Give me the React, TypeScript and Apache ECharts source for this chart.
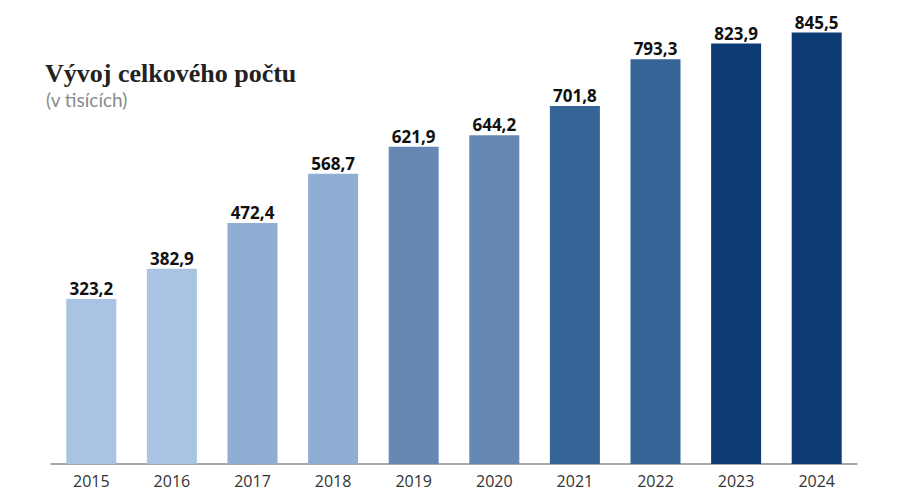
import React, { useEffect, useRef } from 'react';
import * as echarts from 'echarts';

const years = ['2015', '2016', '2017', '2018', '2019', '2020', '2021', '2022', '2023', '2024'];
const values = [323.2, 382.9, 472.4, 568.7, 621.9, 644.2, 701.8, 793.3, 823.9, 845.5];
const barColors = [
  '#a9c4e2', '#a9c4e2',
  '#8eaed4', '#8eaed4',
  '#6688b2', '#6688b2',
  '#366497', '#366497',
  '#0d3c75', '#0d3c75'
];
const titleText = 'Vývoj celkového počtu';
const subtitleText = '(v tisících)';

const fmt = (v: number) => v.toFixed(1).replace('.', ',');

export default function App() {
  const chartRef = useRef<HTMLDivElement>(null);

  useEffect(() => {
    if (!chartRef.current) return;
    const chart = echarts.init(chartRef.current, undefined, { renderer: 'svg' });

    chart.setOption({
      animation: false,
      backgroundColor: '#ffffff',
      graphic: [
        {
          type: 'text',
          left: 37,
          top: 52,
          style: {
            text: titleText,
            fill: '#222222',
            font: 'bold 26px "Liberation Serif"'
          }
        },
        {
          type: 'text',
          left: 38,
          top: 82,
          style: {
            text: subtitleText,
            fill: '#8a8a8a',
            font: '19px Lato'
          }
        }
      ],
      grid: { left: 43, right: 45, top: 7, bottom: 29 },
      xAxis: {
        type: 'category',
        data: years,
        axisLine: { lineStyle: { color: '#8c8c8c', width: 1.5 } },
        axisTick: { show: false },
        axisLabel: {
          color: '#333333',
          fontFamily: 'Open Sans',
          fontSize: 16,
          margin: 9
        }
      },
      yAxis: {
        type: 'value',
        min: 0,
        max: 880,
        show: false,
        splitLine: { show: false }
      },
      series: [
        {
          type: 'bar',
          barWidth: 50,
          data: values.map((v, i) => ({ value: v, itemStyle: { color: barColors[i] } })),
          label: {
            show: true,
            position: 'top',
            distance: 2,
            formatter: (p: any) => fmt(p.value),
            color: '#111111',
            fontFamily: 'Open Sans',
            fontWeight: 'bold',
            fontSize: 17
          }
        }
      ]
    });

    return () => chart.dispose();
  }, []);

  return <div ref={chartRef} style={{ width: 894, height: 485 }} />;
}
